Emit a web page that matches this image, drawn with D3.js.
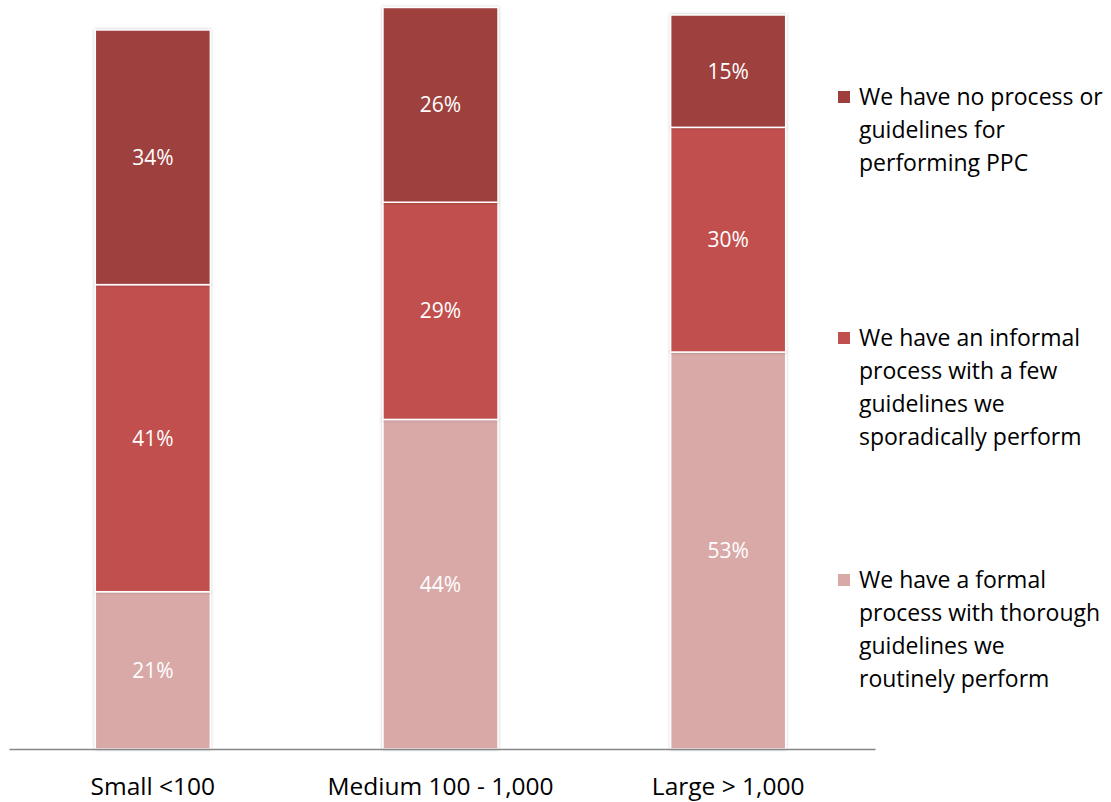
<!DOCTYPE html>
<html><head><meta charset="utf-8">
<script src="https://cdn.jsdelivr.net/npm/d3@7"></script>
<style>body{margin:0;background:#fff;}svg{display:block;}</style>
</head><body>
<svg id="c" width="1111" height="802"></svg>
<script>
const categories = ["Small <100", "Medium 100 - 1,000", "Large > 1,000"];
const seriesNames = [
  "We have a formal process with thorough guidelines we routinely perform",
  "We have an informal process with a few guidelines we sporadically perform",
  "We have no process or guidelines for performing PPC"
];
const formalValues   = [21, 44, 53];
const informalValues = [41, 29, 30];
const noneValues     = [34, 26, 15];
const seriesColors = ["#D9A9A8", "#C0504D", "#9E3F3E"];
const legendLines = [
  ["We have no process or", "guidelines for", "performing PPC"],
  ["We have an informal", "process with a few", "guidelines we", "sporadically perform"],
  ["We have a formal", "process with thorough", "guidelines we", "routinely perform"]
];

const font = "'Open Sans', 'DejaVu Sans', sans-serif";
const svg = d3.select("#c");
const defs = svg.append("defs");
const f = defs.append("filter").attr("id","sh").attr("x","-10%").attr("y","-10%").attr("width","120%").attr("height","120%");
f.append("feDropShadow").attr("dx",0).attr("dy",0).attr("stdDeviation",1.5).attr("flood-color","#000").attr("flood-opacity",0.25);

const data = categories.map((c,i)=>({cat:c, s0:formalValues[i], s1:informalValues[i], s2:noneValues[i]}));
const stack = d3.stack().keys(["s0","s1","s2"])(data);

const x = d3.scaleBand().domain(categories).range([9, 872]).paddingInner(0.6).paddingOuter(0.3);
const y = d3.scaleLinear().domain([0, 100]).range([749, 0]);

const g = svg.append("g");
stack.forEach((layer, li) => {
  g.selectAll(null).data(layer).enter().append("rect")
    .attr("x", d => x(d.data.cat))
    .attr("width", x.bandwidth())
    .attr("y", d => y(d[1]))
    .attr("height", d => y(d[0]) - y(d[1]))
    .attr("fill", seriesColors[li])
    .attr("stroke", "#fff").attr("stroke-width", 1.5)
    .attr("filter", "url(#sh)");
});
stack.forEach((layer, li) => {
  g.selectAll(null).data(layer).enter().append("text")
    .attr("x", d => x(d.data.cat) + x.bandwidth()/2)
    .attr("y", d => (y(d[0]) + y(d[1]))/2)
    .attr("dy", "0.35em")
    .attr("text-anchor", "middle")
    .attr("fill", "#fff")
    .style("font-family", font).style("font-size", "21px")
    .text(d => (d[1]-d[0]) + "%");
});

// axis
const ax = svg.append("g").attr("transform", "translate(0,749)")
  .call(d3.axisBottom(x).tickSize(0).tickPadding(29));
ax.select(".domain").attr("stroke", "#868686").attr("stroke-width", 1.3).attr("d", "M9.5,0.5H875.5");
ax.selectAll("text").style("font-family", font).style("font-size", "24.5px").attr("fill", "#000");

// legend
const legendTops = [97, 338, 580];
const legendColors = [seriesColors[2], seriesColors[1], seriesColors[0]];
legendLines.forEach((lines, i) => {
  const lg = svg.append("g");
  lg.append("rect").attr("x", 838).attr("y", legendTops[i] - 6).attr("width", 12).attr("height", 12).attr("fill", legendColors[i]);
  lines.forEach((t, j) => {
    lg.append("text").attr("x", 859).attr("y", legendTops[i] + j*33).attr("dy", "0.35em")
      .style("font-family", font).style("font-size", "23px").attr("fill", "#000").text(t);
  });
});
</script>
</body></html>
